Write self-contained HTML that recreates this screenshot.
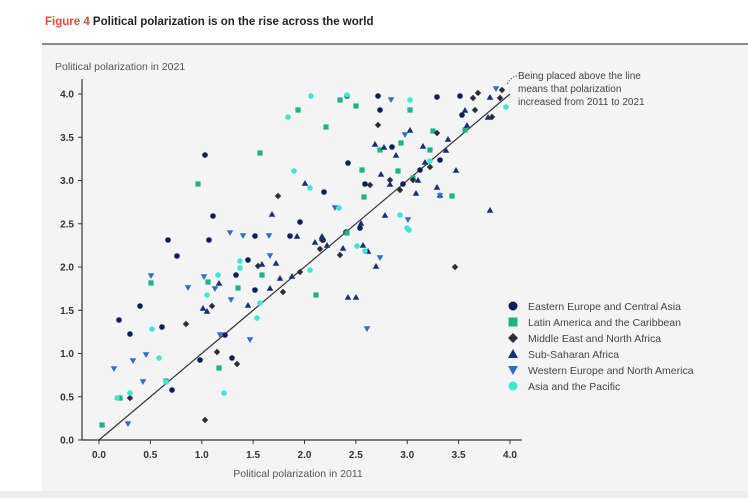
<!DOCTYPE html>
<html><head><meta charset="utf-8"><style>
body{margin:0;width:748px;height:498px;background:#fff;overflow:hidden;font-family:"Liberation Sans",sans-serif}
</style></head><body>
<svg width="748" height="498" xmlns="http://www.w3.org/2000/svg" font-family="Liberation Sans, sans-serif">
<rect x="0" y="0" width="748" height="498" fill="#fff"/>
<rect x="42" y="44" width="706" height="447" fill="#f4f4f4"/>
<rect x="0" y="491" width="748" height="7" fill="#ececec"/>
<line x1="42" y1="44" x2="748" y2="44" stroke="#666" stroke-width="1.5"/>
<text x="45" y="25" font-size="11.5" font-weight="bold" fill="#222"><tspan fill="#f0443a">Figure 4</tspan> Political polarization is on the rise across the world</text>
<text x="55" y="70" font-size="10.5" fill="#555">Political polarization in 2021</text>
<text x="298" y="477" font-size="10.5" fill="#555" text-anchor="middle">Political polarization in 2011</text>
<g stroke="#333" stroke-width="1.2">
<line x1="82" y1="79" x2="82" y2="440"/>
<line x1="82" y1="440" x2="522" y2="440"/>
</g>
<g id="ticks" font-size="10" fill="#333" font-weight="bold"></g>
<line x1="99" y1="440" x2="510" y2="94" stroke="#333" stroke-width="1.2"/>
<path d="M507,84 Q512,76 517,76" fill="none" stroke="#555" stroke-dasharray="1.5,1.5"/>
<text font-size="10" fill="#444"><tspan x="518" y="79">Being placed above the line</tspan><tspan x="518" y="92">means that polarization</tspan><tspan x="518" y="105">increased from 2011 to 2021</tspan></text>
<g id="pts"></g>
<g font-size="10.5" fill="#444">
<circle cx="513" cy="306" r="4.5" fill="#0b1f5c"/><text x="528" y="310">Eastern Europe and Central Asia</text>
<rect x="508.5" y="317.5" width="9" height="9" fill="#1bb38a"/><text x="528" y="326">Latin America and the Caribbean</text>
<path d="M513,333 L518,338 L513,343 L508,338Z" fill="#2a2d3a"/><text x="528" y="342">Middle East and North Africa</text>
<path d="M508,358 L513,349 L518,358Z" fill="#13307a"/><text x="528" y="358">Sub-Saharan Africa</text>
<path d="M508,366 L518,366 L513,375Z" fill="#2f6fc9"/><text x="528" y="374">Western Europe and North America</text>
<circle cx="513" cy="386" r="4.5" fill="#3fe6d8"/><text x="528" y="390">Asia and the Pacific</text>
</g>
</svg>
<script>
var NS="http://www.w3.org/2000/svg",t=document.getElementById("ticks");
function el(n,a,p,txt){var e=document.createElementNS(NS,n);for(var k in a)e.setAttribute(k,a[k]);if(txt)e.textContent=txt;p.appendChild(e);return e;}
for(var i=0;i<=8;i++){var v=i*0.5;var y=440-v*86.5;var x=99+v*102.75;
el("text",{x:74,y:y+3.5,"text-anchor":"end"},t,v.toFixed(1));
el("line",{x1:78,y1:y,x2:82,y2:y,stroke:"#333"},t);
el("text",{x:x,y:458,"text-anchor":"middle"},t,v.toFixed(1));
el("line",{x1:x,y1:440,x2:x,y2:444,stroke:"#333"},t);}
var g=document.getElementById("pts");
var S={
ee:[[119,320],[130,334],[140,306],[162,327],[168,240],[177,256],[205,155],[213,216],[209,240],[255,236],[300,222],[323,240],[347,96],[348,163],[365,184],[378,96],[380,110],[392,147],[403,184],[420,170],[437,97],[460,96],[462,115],[440,160],[360,228],[290,236],[255,290],[236,275],[248,260],[346,232],[324,192],[232,358],[225,335],[200,360],[172,390]],
la:[[102,425],[120,398],[151,283],[166,381],[198,184],[208,282],[219,368],[260,153],[298,110],[326,127],[340,100],[356,106],[410,110],[401,143],[433,131],[452,196],[465,130],[413,178],[398,171],[364,197],[238,288],[316,295],[262,275],[347,233],[430,150],[380,150],[362,170]],
me:[[130,398],[186,324],[205,420],[217,352],[237,364],[212,306],[258,266],[300,272],[322,240],[340,255],[378,125],[370,185],[390,180],[413,180],[437,133],[455,267],[473,98],[478,93],[500,98],[502,90],[492,117],[400,190],[430,167],[475,110],[320,249],[283,292],[278,196]],
ss:[[203,308],[207,311],[219,283],[248,305],[262,264],[270,288],[272,214],[276,263],[292,276],[297,236],[305,183],[322,236],[327,245],[343,248],[348,297],[356,297],[363,245],[368,251],[375,144],[381,174],[384,147],[390,184],[396,155],[410,130],[423,146],[446,150],[456,170],[465,110],[448,139],[440,195],[490,97],[488,117],[490,210],[425,162],[280,278],[376,266],[361,223],[315,242],[385,215],[418,180],[437,187],[467,125],[416,193]],
we:[[114,369],[128,424],[133,361],[143,382],[146,355],[151,276],[188,288],[215,289],[220,335],[230,233],[243,236],[250,340],[269,236],[335,208],[367,329],[391,100],[405,135],[408,220],[440,196],[496,89],[380,258],[270,256],[231,300],[204,277]],
ap:[[117,398],[130,393],[152,329],[159,358],[166,382],[207,295],[218,275],[224,393],[240,268],[257,318],[288,117],[294,171],[311,96],[310,188],[339,208],[347,95],[357,246],[365,251],[400,215],[407,228],[409,230],[410,100],[430,161],[506,107],[240,261],[260,303],[310,270]]};
S.ee.forEach(function(p){el("circle",{cx:p[0],cy:p[1],r:2.8,fill:"#0b1f5c"},g)});
S.la.forEach(function(p){el("rect",{x:p[0]-2.6,y:p[1]-2.6,width:5.2,height:5.2,fill:"#1bb38a"},g)});
S.me.forEach(function(p){var x=p[0],y=p[1];el("path",{d:"M"+x+","+(y-3.2)+"L"+(x+3.2)+","+y+"L"+x+","+(y+3.2)+"L"+(x-3.2)+","+y+"Z",fill:"#2a2d3a"},g)});
S.ss.forEach(function(p){var x=p[0],y=p[1];el("path",{d:"M"+(x-3.3)+","+(y+2.8)+"L"+x+","+(y-3)+"L"+(x+3.3)+","+(y+2.8)+"Z",fill:"#13307a"},g)});
S.we.forEach(function(p){var x=p[0],y=p[1];el("path",{d:"M"+(x-3.3)+","+(y-2.8)+"L"+(x+3.3)+","+(y-2.8)+"L"+x+","+(y+3)+"Z",fill:"#2f6fc9"},g)});
S.ap.forEach(function(p){el("circle",{cx:p[0],cy:p[1],r:2.8,fill:"#3fe6d8"},g)});
</script>
</body></html>
